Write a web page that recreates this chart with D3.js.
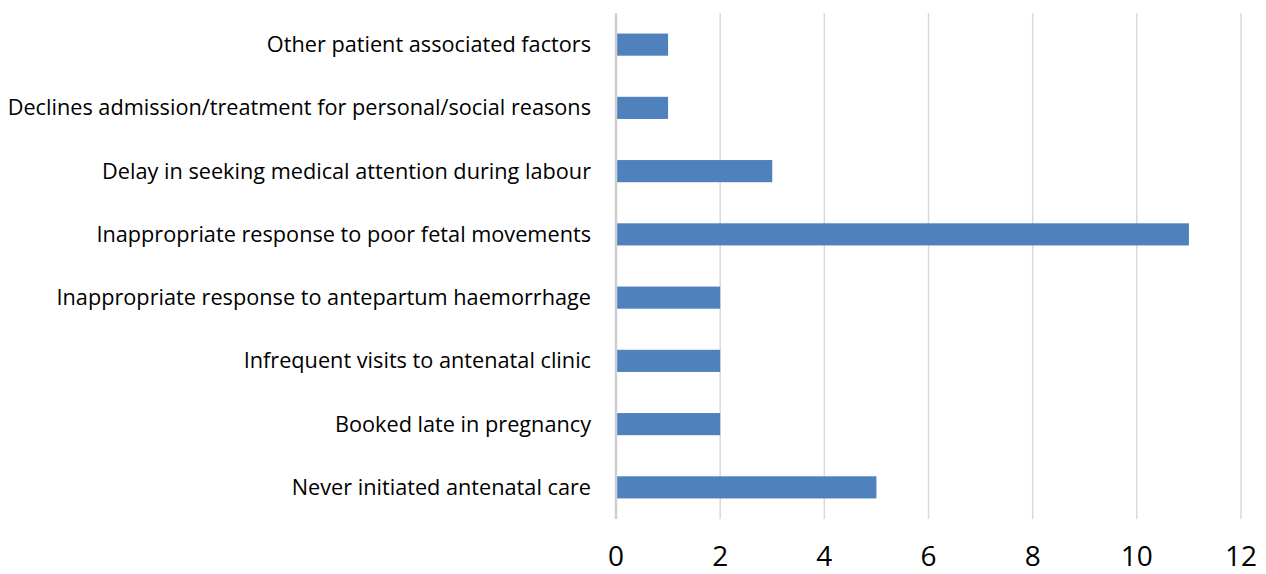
<!DOCTYPE html>
<html>
<head>
<meta charset="utf-8">
<script src="https://cdn.jsdelivr.net/npm/d3@7"></script>
<style>
  body { margin: 0; background: #fff; }
  text { font-family: "Open Sans", Lato, sans-serif; fill: #000; }
</style>
</head>
<body>
<svg id="chart" width="1266" height="574"></svg>
<script>
// categories, top to bottom
var categories = [
    "Other patient associated factors",
    "Declines admission/treatment for personal/social reasons",
    "Delay in seeking medical attention during labour",
    "Inappropriate response to poor fetal movements",
    "Inappropriate response to antepartum haemorrhage",
    "Infrequent visits to antenatal clinic",
    "Booked late in pregnancy",
    "Never initiated antenatal care"
];
var counts = [1, 1, 3, 11, 2, 2, 2, 5];
var tickValues = [0, 2, 4, 6, 8, 10, 12];

var svg = d3.select("#chart");

var x = d3.scaleLinear().domain([0, 12]).range([616, 1241]);
var y = d3.scaleBand().domain(categories).range([13, 519]).paddingInner(0.65).paddingOuter(0.325);

// gridlines
svg.append("g")
    .selectAll("line")
    .data(tickValues.slice(1))
    .enter().append("line")
    .attr("x1", function(d) { return x(d); })
    .attr("x2", function(d) { return x(d); })
    .attr("y1", 13)
    .attr("y2", 519)
    .attr("stroke", "#d9d9d9")
    .attr("stroke-width", 1.5);

// bars
svg.append("g")
    .selectAll("rect")
    .data(categories)
    .enter().append("rect")
    .attr("x", x(0))
    .attr("y", function(d) { return y(d); })
    .attr("width", function(d, i) { return x(counts[i]) - x(0); })
    .attr("height", y.bandwidth())
    .attr("fill", "#4f81bd");

// zero axis line
svg.append("line")
    .attr("x1", x(0)).attr("x2", x(0))
    .attr("y1", 13).attr("y2", 519)
    .attr("stroke", "#d0d0d0")
    .attr("stroke-width", 2.5);

// category labels
svg.append("g")
    .selectAll("text")
    .data(categories)
    .enter().append("text")
    .attr("x", 591)
    .attr("y", function(d) { return y(d) + y.bandwidth() / 2; })
    .attr("dy", "0.35em")
    .attr("text-anchor", "end")
    .attr("font-size", "21.7px")
    .text(function(d) { return d; });

// x tick labels
svg.append("g")
    .selectAll("text")
    .data(tickValues)
    .enter().append("text")
    .attr("x", function(d) { return x(d); })
    .attr("y", 566)
    .attr("text-anchor", "middle")
    .attr("font-size", "28px")
    .text(function(d) { return d; });
</script>
</body>
</html>
